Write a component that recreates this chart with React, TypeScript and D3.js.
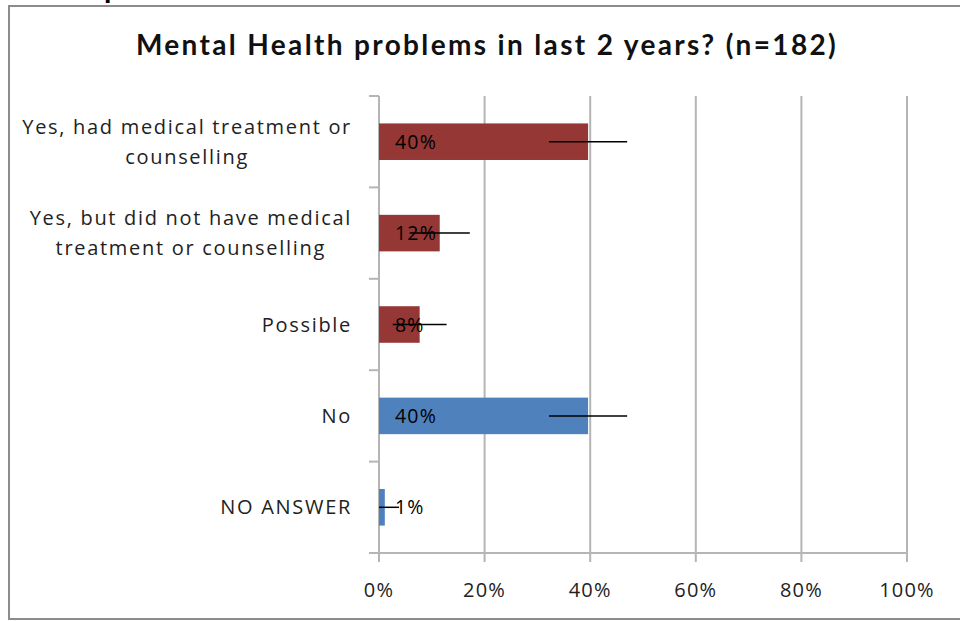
import React, { useLayoutEffect, useRef, useState } from "react";
import * as d3 from "d3";

const categories = [
  "Yes, had medical treatment or counselling",
  "Yes, but did not have medical treatment or counselling",
  "Possible",
  "No",
  "NO ANSWER",
];
const categoryLines = [
  ["Yes, had medical treatment or", "counselling"],
  ["Yes, but did not have medical", "treatment or counselling"],
  ["Possible"],
  ["No"],
  ["NO ANSWER"],
];
const values = [0.396, 0.115, 0.077, 0.396, 0.011];
const errors = [0.074, 0.057, 0.051, 0.074, 0.027];
const valueLabels = ["40%", "12%", "8%", "40%", "1%"];
const barColors = ["#953735", "#953735", "#953735", "#4f81bd", "#4f81bd"];
const xTicks = [0, 0.2, 0.4, 0.6, 0.8, 1.0];
const title = "Mental Health problems in last 2 years? (n=182)";

const W = 960;
const H = 621;
const plot = { left: 379, right: 907, top: 96, bottom: 553 };
const labelRight = 352;
const font = "'Open Sans', Lato, sans-serif";
const titleFont = "Lato, 'Open Sans', sans-serif";

export default function App() {
  const x = d3.scaleLinear().domain([0, 1]).range([plot.left, plot.right]);
  const y = d3
    .scaleBand<string>()
    .domain(categories)
    .range([plot.top, plot.bottom])
    .paddingInner(0.6)
    .paddingOuter(0.3);
  const step = y.step();
  const bounds = d3.range(categories.length + 1).map((i) => plot.top + i * step);
  const fmt = d3.format(".0%");

  const groupRefs = useRef<(SVGTextElement | null)[]>([]);
  const [centers, setCenters] = useState<number[]>(categories.map(() => 187));
  useLayoutEffect(() => {
    const next = groupRefs.current.map((el) => {
      if (!el) return 187;
      const spans = Array.from(el.querySelectorAll("tspan")) as SVGTextContentElement[];
      const maxW = d3.max(spans, (s) => s.getComputedTextLength()) || 0;
      return labelRight - maxW / 2;
    });
    setCenters(next);
  }, []);

  return (
    <svg
      width={W}
      height={H}
      style={{ position: "fixed", left: 0, top: 0, background: "#fff" }}
    >
      <rect x={0} y={0} width={W} height={H} fill="#fff" />
      <text x={104} y={-2} fontFamily={titleFont} fontWeight={700} fontSize={30} fill="#000">
        p
      </text>
      <rect x={9} y={6} width={1000} height={613} fill="#fff" stroke="#8c8c8c" strokeWidth={2} />
      <text
        x={487}
        y={55}
        textAnchor="middle"
        fontFamily={titleFont}
        fontWeight={700}
        fontSize={28}
        letterSpacing={2.35}
        fill="#111"
      >
        {title}
      </text>
      {/* gridlines */}
      {xTicks.slice(1).map((t) => (
        <line
          key={"g" + t}
          x1={x(t)}
          x2={x(t)}
          y1={plot.top}
          y2={plot.bottom + 9}
          stroke="#b5b5b5"
          strokeWidth={2}
        />
      ))}
      {/* y axis */}
      <line x1={x(0)} x2={x(0)} y1={plot.top} y2={plot.bottom + 9} stroke="#b5b5b5" strokeWidth={2} />
      {bounds.map((b, i) => (
        <line key={"yt" + i} x1={x(0) - 10} x2={x(0)} y1={b} y2={b} stroke="#b5b5b5" strokeWidth={2} />
      ))}
      {/* x axis */}
      <line x1={x(0) - 10} x2={x(1)} y1={plot.bottom} y2={plot.bottom} stroke="#b5b5b5" strokeWidth={2} />
      {xTicks.map((t) => (
        <text
          key={"xt" + t}
          x={x(t)}
          y={597}
          textAnchor="middle"
          fontFamily={font}
          fontSize={20}
          letterSpacing={1.2}
          fill="#222"
        >
          {fmt(t)}
        </text>
      ))}
      {/* bars */}
      {categories.map((c, i) => (
        <rect
          key={"b" + i}
          x={x(0)}
          y={y(c)}
          width={x(values[i]) - x(0)}
          height={y.bandwidth()}
          fill={barColors[i]}
        />
      ))}
      {/* labels */}
      {categories.map((c, i) => (
        <text
          key={"v" + i}
          x={x(0) + 16}
          y={(y(c) as number) + y.bandwidth() / 2 + 7}
          fontFamily={font}
          fontSize={19.5}
          letterSpacing={1.2}
          fill="#000"
        >
          {valueLabels[i]}
        </text>
      ))}
      {/* error bars */}
      {categories.map((c, i) => (
        <line
          key={"e" + i}
          x1={x(Math.max(0, values[i] - errors[i]))}
          x2={x(values[i] + errors[i])}
          y1={(y(c) as number) + y.bandwidth() / 2}
          y2={(y(c) as number) + y.bandwidth() / 2}
          stroke="#000"
          strokeWidth={1.5}
        />
      ))}
      {/* category labels */}
      {categories.map((c, i) => {
        const lines = categoryLines[i];
        const cy = (y(c) as number) + y.bandwidth() / 2;
        const lh = 30;
        const start = cy - ((lines.length - 1) * lh) / 2;
        return (
          <text
            key={"c" + i}
            ref={(el) => {
              groupRefs.current[i] = el;
            }}
            textAnchor="middle"
            fontFamily={font}
            fontSize={20}
            letterSpacing={1.7}
            fill="#222"
          >
            {lines.map((l, j) => (
              <tspan key={j} x={centers[i]} y={start + j * lh + 7}>
                {l}
              </tspan>
            ))}
          </text>
        );
      })}
    </svg>
  );
}
